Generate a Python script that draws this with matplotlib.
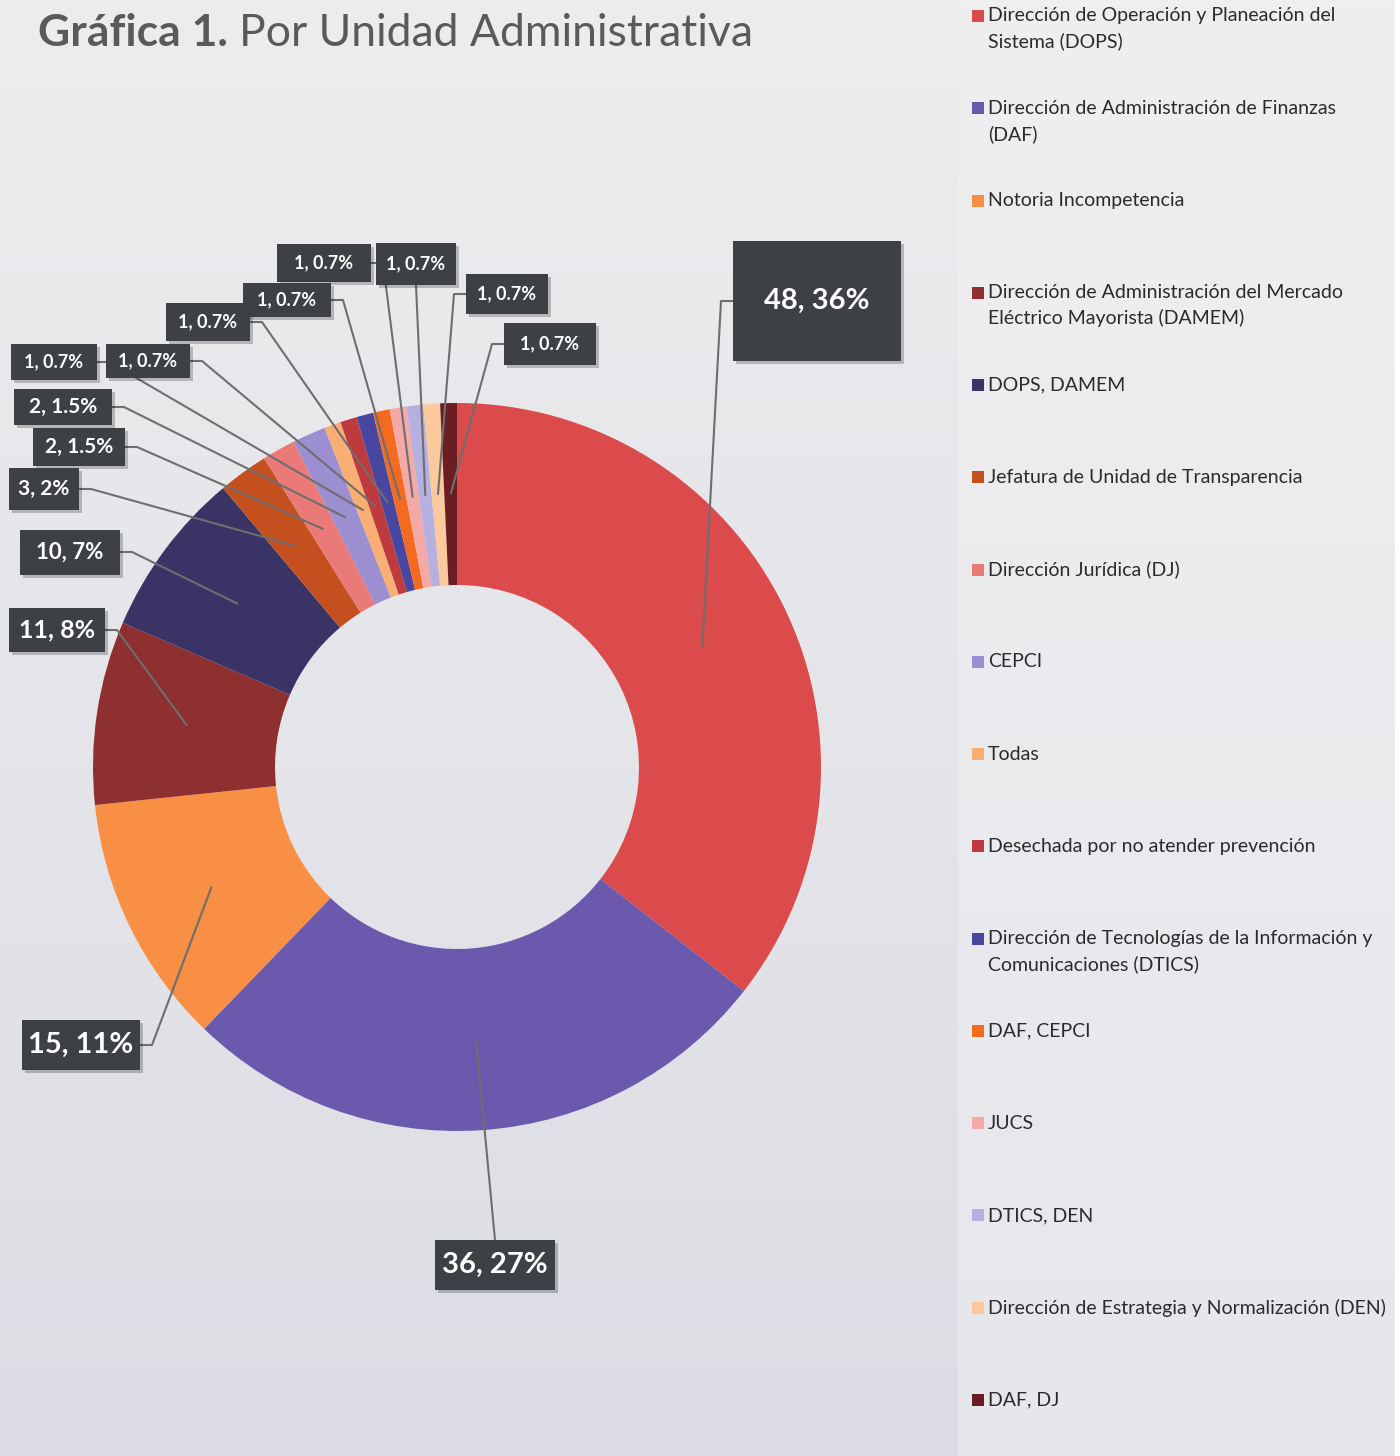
import numpy as np
import matplotlib
matplotlib.use("Agg")
import matplotlib.pyplot as plt
from matplotlib.patches import Rectangle
from matplotlib.colors import to_rgb

plt.rcParams['font.family'] = ['Lato', 'DejaVu Sans']

# data (clockwise from 12 o'clock)
categories = [
    "Dirección de Operación y Planeación del\nSistema (DOPS)",
    "Dirección de Administración de Finanzas\n(DAF)",
    "Notoria Incompetencia",
    "Dirección de Administración del Mercado\nEléctrico Mayorista (DAMEM)",
    "DOPS, DAMEM",
    "Jefatura de Unidad de Transparencia",
    "Dirección Jurídica (DJ)",
    "CEPCI",
    "Todas",
    "Desechada por no atender prevención",
    "Dirección de Tecnologías de la Información y\nComunicaciones (DTICS)",
    "DAF, CEPCI",
    "JUCS",
    "DTICS, DEN",
    "Dirección de Estrategia y Normalización (DEN)",
    "DAF, DJ",
]
counts = [48, 36, 15, 11, 10, 3, 2, 2, 1, 1, 1, 1, 1, 1, 1, 1]

colors = ['#DB4B4B', '#6A59AD', '#F98E45', '#8E2F30', '#3A3366', '#C5501F',
          '#E97A78', '#9B8FD1', '#F9AE74', '#BF3A3C', '#4746A0', '#F46A1F',
          '#F5A9A6', '#B5B0E0', '#FBC99C', '#6B1E21']

# label boxes: centre x, centre y (pixels from top), width, height, font size, leader side
label_boxes = [
    (817, 301, 168, 120, 21, 'L'),
    (495, 1265, 120, 50, 21, 'T'),
    (81, 1045, 118, 50, 21, 'R'),
    (57, 630, 96, 44, 18, 'R'),
    (70, 552, 100, 45, 16, 'R'),
    (44, 489, 70, 42, 15, 'R'),
    (79, 447, 92, 38, 15, 'R'),
    (63, 407, 98, 36, 15, 'R'),
    (54, 362, 86, 36, 13, 'R'),
    (148, 361, 84, 34, 13, 'R'),
    (208, 322, 84, 38, 13, 'R'),
    (287, 300, 88, 34, 13, 'R'),
    (324, 263, 94, 38, 13, 'R'),
    (416, 264, 80, 42, 13, 'B'),
    (507, 294, 82, 40, 13, 'L'),
    (550, 344, 92, 42, 13, 'L'),
]

W, H = 1400, 1456


def Y(p):
    return H - p


def gradient(ax, x0, x1, top, bottom):
    c0, c1 = np.array(to_rgb(top)), np.array(to_rgb(bottom))
    t = np.linspace(0, 1, 256)[:, None]
    img = (c0 * (1 - t) + c1 * t)[:, None, :]
    ax.imshow(img, extent=(x0, x1, 0, H), aspect='auto', zorder=0, origin='upper')


fig = plt.figure(figsize=(14, 14.56), dpi=100)
ax = fig.add_axes([0, 0, 1, 1])

cx, cy, R = 457, Y(767), 364
wedges, _ = ax.pie(counts, colors=colors, startangle=90, counterclock=False,
                   center=(cx, cy), radius=R,
                   wedgeprops=dict(width=R * 0.5, edgecolor='none'))
for w in wedges:
    w.set_zorder(2)

ax.set_xlim(0, W)
ax.set_ylim(0, H)
ax.set_aspect('equal')
ax.axis('off')

gradient(ax, 0, 958, '#EDEDEF', '#DCDDE4')
gradient(ax, 958, 1395, '#EFEFF1', '#E6E7EB')
ax.add_patch(Rectangle((1395, 0), 5, H, color='white', zorder=0))

total = sum(counts)
for w, n, (bx, by, bw, bh, fs, side) in zip(wedges, counts, label_boxes):
    pct = n / total * 100
    txt = f"{n}, {pct:.1f}%" if pct < 2 else f"{n}, {pct:.0f}%"
    mid = np.deg2rad((w.theta1 + w.theta2) / 2)
    px = cx + 0.75 * R * np.cos(mid)
    py = cy + 0.75 * R * np.sin(mid)
    byd = Y(by)
    if side == 'L':
        xs = [bx - bw / 2, bx - bw / 2 - 12, px]
        ys = [byd, byd, py]
    elif side == 'R':
        xs = [bx + bw / 2, bx + bw / 2 + 12, px]
        ys = [byd, byd, py]
    elif side == 'T':
        xs, ys = [bx, px], [byd + bh / 2, py]
    else:
        xs, ys = [bx, px], [byd - bh / 2, py]
    ax.plot(xs, ys, color='#6E6E6E', lw=1.5, zorder=3, solid_capstyle='butt')

    ax.add_patch(Rectangle((bx - bw / 2 + 3, byd - bh / 2 - 3), bw, bh,
                           color='black', alpha=0.22, zorder=4, lw=0))
    ax.add_patch(Rectangle((bx - bw / 2, byd - bh / 2), bw, bh,
                           color='#3D4045', zorder=5, lw=0))
    ax.text(bx, byd, txt, color='white', fontsize=fs, fontweight='bold',
            ha='center', va='center', zorder=6)

# title
t1 = ax.text(38, Y(46), "Gráfica 1.", fontsize=32, fontweight='bold',
             color='#5A5A5A', ha='left', va='baseline', zorder=6)
fig.canvas.draw()
bb = t1.get_window_extent().transformed(ax.transData.inverted())
ax.text(bb.x1 + 11, Y(46), "Por Unidad Administrativa", fontsize=32,
        color='#5A5A5A', ha='left', va='baseline', zorder=6)

# legend drawn by hand to keep the wide spacing
rows = np.linspace(16, 1400, len(categories))
for lab, col, ry in zip(categories, colors, rows):
    ax.add_patch(Rectangle((972, Y(ry) - 6), 12, 12, color=col, zorder=5, lw=0))
    for k, line in enumerate(lab.split('\n')):
        ax.text(988, Y(ry + k * 25.5), line, fontsize=14, color='#2B2B2B',
                ha='left', va='center', zorder=6)

fig.savefig("out.png", dpi=100)
